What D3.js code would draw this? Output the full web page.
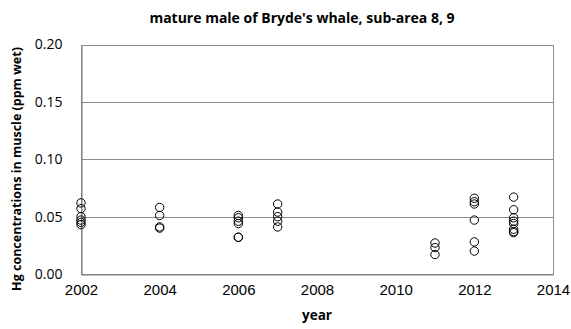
<!DOCTYPE html>
<html>
<head>
<meta charset="utf-8">
<script src="https://cdn.jsdelivr.net/npm/d3@7"></script>
<style>
  html, body { margin: 0; padding: 0; background: #fff; }
  svg { display: block; }
</style>
</head>
<body>
<svg id="chart" width="571" height="329"></svg>
<script>
// Hg concentration samples per survey year
const years2002 = [0.062, 0.057, 0.050, 0.047, 0.045, 0.043];
const years2004 = [0.058, 0.051, 0.041, 0.040];
const years2006 = [0.051, 0.049, 0.046, 0.044, 0.032, 0.032];
const years2007 = [0.061, 0.054, 0.050, 0.046, 0.041];
const years2011 = [0.027, 0.023, 0.017];
const years2012 = [0.066, 0.063, 0.061, 0.047, 0.028, 0.020];
const years2013 = [0.067, 0.056, 0.049, 0.046, 0.044, 0.039, 0.037, 0.036];

const sampleYears = [2002, 2004, 2006, 2007, 2011, 2012, 2013];
const sampleValues = [years2002, years2004, years2006, years2007, years2011, years2012, years2013];

const xTicks = [2002, 2004, 2006, 2008, 2010, 2012, 2014];
const yTicks = [0.00, 0.05, 0.10, 0.15, 0.20];

const titleText = "mature male of Bryde's whale, sub-area 8, 9";
const xLabel = "year";
const yLabel = "Hg concentrations in muscle (ppm wet)";

const points = [];
sampleYears.forEach((yr, i) => sampleValues[i].forEach(v => points.push({ year: yr, value: v })));

const svg = d3.select("#chart");
const W = 571, H = 329;
const margin = { left: 81, right: 18, top: 44.5, bottom: 55 };

const x = d3.scaleLinear().domain([2002, 2014]).range([margin.left, W - margin.right]);
const y = d3.scaleLinear().domain([0, 0.20]).range([H - margin.bottom, margin.top]);

const font = "'Open Sans', 'Liberation Sans', sans-serif";
const tickFontX = "'Liberation Sans', Arial, sans-serif";

// horizontal gridlines
svg.append("g")
  .selectAll("line")
  .data(yTicks.filter(t => t > 0 && t < 0.20))
  .join("line")
  .attr("x1", x(2002)).attr("x2", x(2014))
  .attr("y1", d => Math.round(y(d)) + 0.5).attr("y2", d => Math.round(y(d)) + 0.5)
  .attr("stroke", "#8c8c8c").attr("stroke-width", 1);

// plot frame
svg.append("rect")
  .attr("x", x(2002) + 0.5).attr("y", Math.round(y(0.20)) + 0.5)
  .attr("width", x(2014) - x(2002)).attr("height", Math.round(y(0)) - Math.round(y(0.20)))
  .attr("fill", "none").attr("stroke", "#8c8c8c").attr("stroke-width", 1);

// y axis
const yAxis = svg.append("g")
  .attr("transform", `translate(${x(2002) + 0.5},0)`)
  .call(d3.axisLeft(y).tickValues(yTicks).tickFormat(d3.format(".2f")).tickSize(0).tickPadding(19));
yAxis.select(".domain").attr("stroke", "#7a7a7a");
yAxis.selectAll("text").attr("font-family", font).attr("font-size", 14).attr("fill", "#000");

// x axis
const xAxis = svg.append("g")
  .attr("transform", `translate(0,${Math.round(y(0)) + 0.5})`)
  .call(d3.axisBottom(x).tickValues(xTicks).tickFormat(d3.format("d")).tickSize(0).tickPadding(10));
xAxis.select(".domain").attr("stroke", "#7a7a7a");
xAxis.selectAll("text").attr("font-family", tickFontX).attr("font-size", 15).attr("fill", "#000");

// sample markers
svg.append("g")
  .selectAll("circle")
  .data(points)
  .join("circle")
  .attr("cx", d => x(d.year))
  .attr("cy", d => y(d.value))
  .attr("r", 4.2)
  .attr("fill", "none")
  .attr("stroke", "#000")
  .attr("stroke-width", 1);

// title
svg.append("text")
  .attr("x", 302).attr("y", 23)
  .attr("text-anchor", "middle")
  .attr("font-family", font).attr("font-weight", "bold").attr("font-size", 14)
  .text(titleText);

// axis titles
svg.append("text")
  .attr("x", (x(2002) + x(2014)) / 2).attr("y", 320)
  .attr("text-anchor", "middle")
  .attr("font-family", font).attr("font-weight", "bold").attr("font-size", 13.5)
  .text(xLabel);

svg.append("text")
  .attr("transform", "translate(21,169) rotate(-90)")
  .attr("text-anchor", "middle")
  .attr("font-family", font).attr("font-weight", "bold").attr("font-size", 12.5)
  .text(yLabel);
</script>
</body>
</html>
